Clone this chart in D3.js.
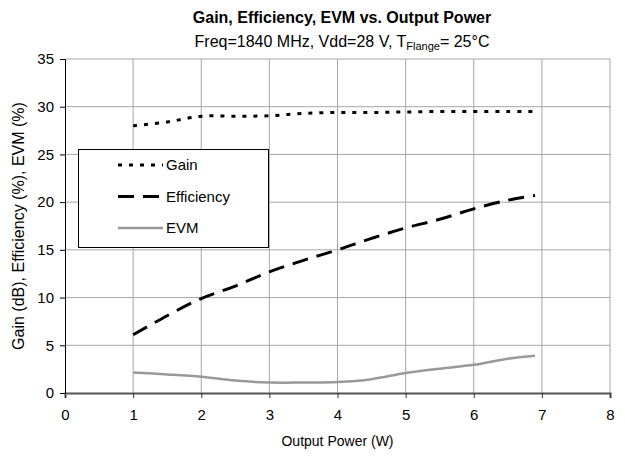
<!DOCTYPE html>
<html>
<head>
<meta charset="utf-8">
<script src="https://cdn.jsdelivr.net/npm/d3@7"></script>
<style>
  body { margin: 0; background: #fff; }
  text { font-family: "Liberation Sans", Arial, sans-serif; fill: #000; }
</style>
</head>
<body>
<div id="chart"></div>
<script>
const power = [1, 1.5, 2, 2.5, 3, 3.5, 4, 4.5, 5, 5.5, 6, 6.5, 6.9];
const gain = [28.0, 28.4, 29.0, 29.0, 29.05, 29.3, 29.4, 29.4, 29.45, 29.5, 29.5, 29.5, 29.5];
const efficiency = [6.1, 8.1, 9.9, 11.2, 12.7, 13.9, 15.0, 16.2, 17.3, 18.2, 19.3, 20.2, 20.7];
const evm = [2.15, 1.95, 1.7, 1.3, 1.1, 1.1, 1.15, 1.45, 2.1, 2.55, 2.95, 3.6, 3.9];
const xTicks = [0, 1, 2, 3, 4, 5, 6, 7, 8];
const yTicks = [0, 5, 10, 15, 20, 25, 30, 35];

const series = [
  { name: 'Gain', values: gain, color: '#000', width: 3, dash: '4,7' },
  { name: 'Efficiency', values: efficiency, color: '#000', width: 3, dash: '16,9' },
  { name: 'EVM', values: evm, color: '#999', width: 2.5, dash: null }
];

const W = 625, H = 461;
const margin = { top: 59, right: 15, bottom: 68, left: 65 };
const width = W - margin.left - margin.right;
const height = H - margin.top - margin.bottom;

const svgRoot = d3.select('#chart').append('svg')
  .attr('width', W)
  .attr('height', H);

const svg = svgRoot.append('g')
  .attr('transform', 'translate(' + margin.left + ',' + margin.top + ')');

const x = d3.scaleLinear().domain([0, 8]).range([0, width]);
const y = d3.scaleLinear().domain([0, 35]).range([height, 0]);

// grid
svg.append('g')
  .selectAll('line')
  .data(xTicks.slice(1))
  .enter().append('line')
  .attr('x1', d => x(d)).attr('x2', d => x(d))
  .attr('y1', 0).attr('y2', height)
  .attr('stroke', '#a6a6a6').attr('stroke-width', 1);
svg.append('g')
  .selectAll('line')
  .data(yTicks.slice(1))
  .enter().append('line')
  .attr('x1', 0).attr('x2', width)
  .attr('y1', d => y(d)).attr('y2', d => y(d))
  .attr('stroke', '#a6a6a6').attr('stroke-width', 1);

// x axis
const xAxis = svg.append('g')
  .attr('transform', 'translate(0,' + height + ')')
  .call(d3.axisBottom(x).tickValues(xTicks).tickSize(5).tickPadding(11).tickFormat(d3.format('d')));
xAxis.select('.domain').attr('stroke', '#555').attr('stroke-width', 2);
xAxis.selectAll('.tick line').attr('stroke', '#333');
xAxis.selectAll('text').style('font-size', '15px');

// y axis
const yAxis = svg.append('g')
  .call(d3.axisLeft(y).tickValues(yTicks).tickSize(5).tickPadding(6).tickFormat(d3.format('d')));
yAxis.select('.domain').attr('stroke', '#000');
yAxis.selectAll('text').style('font-size', '15px');

// lines
const line = d3.line().curve(d3.curveCatmullRom.alpha(0.5));
series.forEach(s => {
  svg.append('path')
    .datum(power.map((p, i) => [x(p), y(s.values[i])]))
    .attr('d', line)
    .attr('fill', 'none')
    .attr('stroke', s.color)
    .attr('stroke-width', s.width)
    .attr('stroke-dasharray', s.dash);
});

// legend
const lg = svgRoot.append('g').attr('transform', 'translate(78,149)');
lg.append('rect')
  .attr('x', 0.5).attr('y', 0.5)
  .attr('width', 190).attr('height', 98)
  .attr('fill', '#fff').attr('stroke', '#000');
series.forEach((s, i) => {
  const ly = 16 + i * 31.5;
  lg.append('line')
    .attr('x1', 40).attr('x2', 85)
    .attr('y1', ly).attr('y2', ly)
    .attr('stroke', s.color)
    .attr('stroke-width', s.width)
    .attr('stroke-dasharray', s.dash);
  lg.append('text')
    .attr('x', 88).attr('y', ly + 5)
    .style('font-size', '15px')
    .text(s.name);
});

// titles
svgRoot.append('text')
  .attr('x', 342).attr('y', 23)
  .attr('text-anchor', 'middle')
  .style('font-size', '16px').style('font-weight', 'bold')
  .text('Gain, Efficiency, EVM vs. Output Power');

const sub = svgRoot.append('text')
  .attr('x', 342).attr('y', 47)
  .attr('text-anchor', 'middle')
  .style('font-size', '16px');
sub.append('tspan').text('Freq=1840 MHz, Vdd=28 V, T');
sub.append('tspan').attr('dy', 3).style('font-size', '11px').text('Flange');
sub.append('tspan').attr('dy', -3).text('= 25°C');

svgRoot.append('text')
  .attr('x', margin.left + width / 2).attr('y', 446)
  .attr('text-anchor', 'middle')
  .style('font-size', '14px')
  .text('Output Power (W)');

svgRoot.append('text')
  .attr('transform', 'translate(24,' + (margin.top + height / 2) + ') rotate(-90)')
  .attr('text-anchor', 'middle')
  .style('font-size', '16px')
  .text('Gain (dB), Efficiency (%), EVM (%)');
</script>
</body>
</html>
